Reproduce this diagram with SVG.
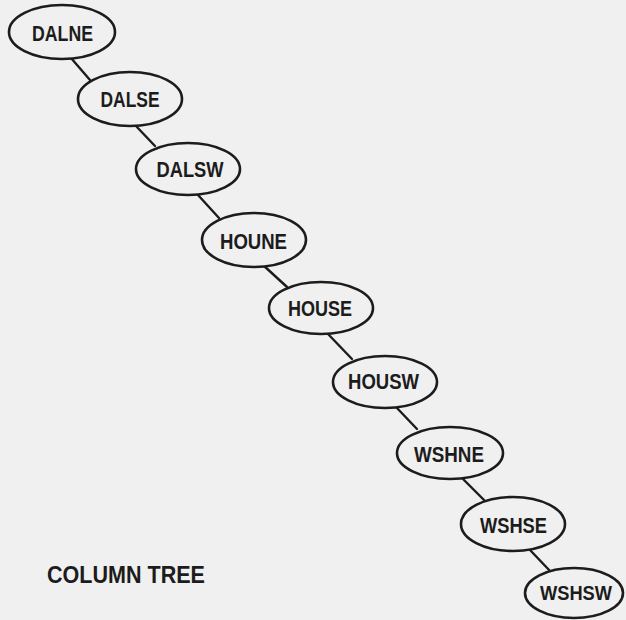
<svg xmlns="http://www.w3.org/2000/svg" width="626" height="620" viewBox="0 0 626 620">
<style>
.bg{fill:#f0f0f0}
.n ellipse{fill:#f0f0f0;stroke:#1c1c1c;stroke-width:2.6}
.n text{font-family:"Liberation Sans",Arial,sans-serif;font-weight:bold;font-size:22px;fill:#1c1c1c;text-anchor:middle}
#edges line{stroke:#1c1c1c;stroke-width:2.4;stroke-linecap:round}
.cap{font-family:"Liberation Sans",Arial,sans-serif;font-weight:bold;font-size:23px;fill:#1c1c1c}
</style>
<rect class="bg" x="0" y="0" width="626" height="620"/>
<g id="edges">
<line x1="71" y1="58" x2="90" y2="80"/>
<line x1="135" y1="125" x2="155" y2="146"/>
<line x1="198" y1="195" x2="219" y2="218"/>
<line x1="263" y1="265" x2="287" y2="287"/>
<line x1="328" y1="334" x2="352" y2="359"/>
<line x1="396" y1="407" x2="417" y2="429"/>
<line x1="462" y1="478" x2="484" y2="500"/>
<line x1="530" y1="550" x2="551" y2="572"/>
</g>
<g id="DALNE" class="n"><ellipse cx="62" cy="32" rx="53" ry="27"/><text x="62.5" y="41" textLength="61" lengthAdjust="spacingAndGlyphs">DALNE</text></g>
<g id="DALSE" class="n"><ellipse cx="130" cy="99" rx="52" ry="27"/><text x="130" y="107" textLength="59" lengthAdjust="spacingAndGlyphs">DALSE</text></g>
<g id="DALSW" class="n"><ellipse cx="188" cy="169" rx="52" ry="26"/><text x="190" y="177" textLength="67" lengthAdjust="spacingAndGlyphs">DALSW</text></g>
<g id="HOUNE" class="n"><ellipse cx="254" cy="240" rx="52" ry="27"/><text x="253.5" y="249" textLength="67" lengthAdjust="spacingAndGlyphs">HOUNE</text></g>
<g id="HOUSE" class="n"><ellipse cx="321" cy="308" rx="52" ry="26"/><text x="320" y="316" textLength="64" lengthAdjust="spacingAndGlyphs">HOUSE</text></g>
<g id="HOUSW" class="n"><ellipse cx="385" cy="382" rx="52" ry="26"/><text x="383.5" y="389" textLength="71" lengthAdjust="spacingAndGlyphs">HOUSW</text></g>
<g id="WSHNE" class="n"><ellipse cx="450" cy="453" rx="53" ry="26"/><text x="449" y="462" textLength="70" lengthAdjust="spacingAndGlyphs">WSHNE</text></g>
<g id="WSHSE" class="n"><ellipse cx="513" cy="524" rx="52" ry="27"/><text x="513.5" y="533" textLength="67" lengthAdjust="spacingAndGlyphs">WSHSE</text></g>
<g id="WSHSW" class="n"><ellipse cx="574" cy="593" rx="49" ry="25"/><text x="576" y="600" style="font-size:20px" textLength="72" lengthAdjust="spacingAndGlyphs">WSHSW</text></g>
<text class="cap" x="47" y="583" textLength="158" lengthAdjust="spacingAndGlyphs">COLUMN TREE</text>
</svg>
